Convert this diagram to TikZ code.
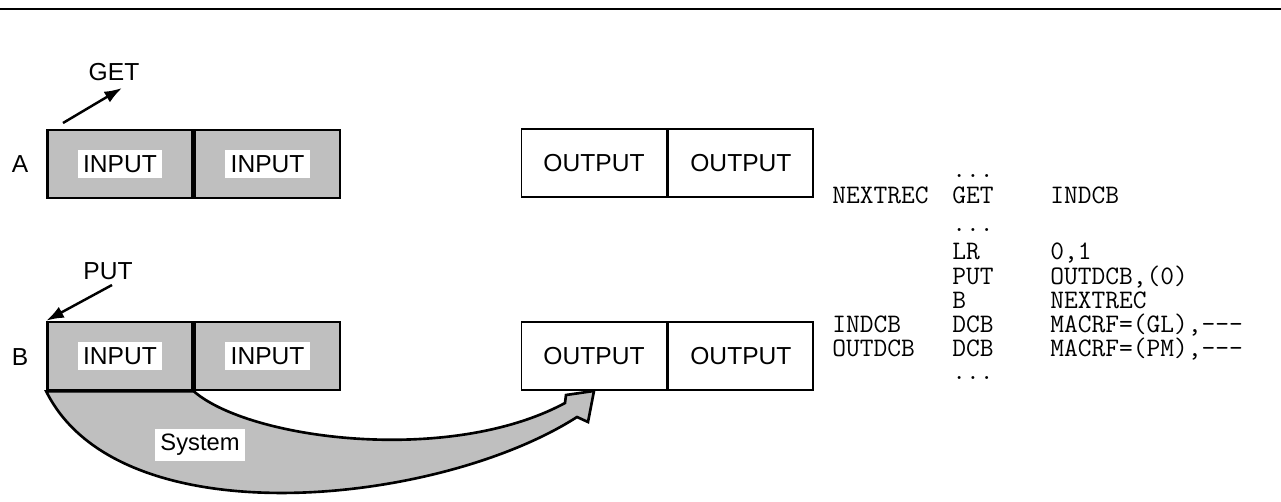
\documentclass[tikz,border=0pt]{standalone}
\usepackage{fontspec}
\setmainfont{Liberation Sans}
\usetikzlibrary{positioning}
\usetikzlibrary{arrows.meta}

\begin{document}
\begin{tikzpicture}[x=0.02cm,y=-0.02cm,
cell/.style={draw,line width=1.1pt,minimum width=2.9cm,minimum height=1.36cm,
  inner sep=0pt,font=\fontsize{14}{16}\selectfont},
shaded/.style={cell,fill=black!25,line width=1.5pt},
tag/.style={fill=white,inner sep=3pt,font=\fontsize{14}{16}\selectfont},
word/.style={inner sep=0pt,font=\fontsize{14}{16}\selectfont},
code/.style={anchor=base west,inner sep=0pt,font=\ttfamily\fontsize{15.2}{16}\selectfont},
arr/.style={-{Latex[length=10pt,width=7pt]},line width=1.4pt}]

\useasboundingbox (0,0) rectangle (1281,501);
\draw[line width=1.6pt] (0,9) -- (1281,9);

% case A: GET
\node[word] (labA) at (20,164) {A};
\node[shaded] (ina1) at (120,164) {};
\node[shaded,right=0pt of ina1] (ina2) {};
\node[tag] (ina1t) at (ina1) {INPUT};
\node[tag] (ina2t) at (ina2) {INPUT};
\node[cell] (outa1) at (594,163) {OUTPUT};
\node[cell,right=0pt of outa1] (outa2) {OUTPUT};

\node[word] (get) at (114,72) {GET};
\coordinate (getfoot) at (63,123);
\coordinate (gethead) at (122,88);
\draw[arr] (getfoot) -- (gethead);

% case B: PUT, the system moves the record
\node[word] (labB) at (20,357) {B};
\node[shaded] (inb1) at (120,356) {};
\node[shaded,right=0pt of inb1] (inb2) {};
\node[cell] (outb1) at (594,356) {OUTPUT};
\node[cell,right=0pt of outb1] (outb2) {OUTPUT};

\draw[line width=1.5pt,fill=black!25] (inb1.south west)
    .. controls (120,540) and (440,505) .. (577,417) -- (588,422)
    -- (outb1.south) -- (566,395) -- (565,403)
    .. controls (450,465) and (250,440) .. (inb1.south east) -- cycle;
\node[tag] (inb1t) at (inb1) {INPUT};
\node[tag] (inb2t) at (inb2) {INPUT};
\node[tag,font=\fontsize{13.5}{16}\selectfont] (sys) at (200,445) {System};

\node[word] (put) at (108,271) {PUT};
\coordinate (putfoot) at (112,285);
\draw[arr] (putfoot) -- (inb1.north west);

% program
\node[code] (dots1) at (952,177) {...};
\node[code] (nextrec) at (832,203) {NEXTREC};
\node[code] (opget) at (952,203) {GET};
\node[code] (argget) at (1050,203) {INDCB};
\node[code] (dots2) at (952,231) {...};
\node[code] (oplr) at (952,259) {LR};
\node[code] (arglr) at (1050,259) {0,1};
\node[code] (opput) at (952,284) {PUT};
\node[code] (argput) at (1050,284) {OUTDCB,(0)};
\node[code] (opb) at (952,308) {B};
\node[code] (argb) at (1050,308) {NEXTREC};
\node[code] (indcb) at (832,332) {INDCB};
\node[code] (opin) at (952,332) {DCB};
\node[code] (argin) at (1050,332) {MACRF=(GL),---};
\node[code] (outdcb) at (832,356) {OUTDCB};
\node[code] (opout) at (952,356) {DCB};
\node[code] (argout) at (1050,356) {MACRF=(PM),---};
\node[code] (dots3) at (952,379) {...};
\end{tikzpicture}
\end{document}
